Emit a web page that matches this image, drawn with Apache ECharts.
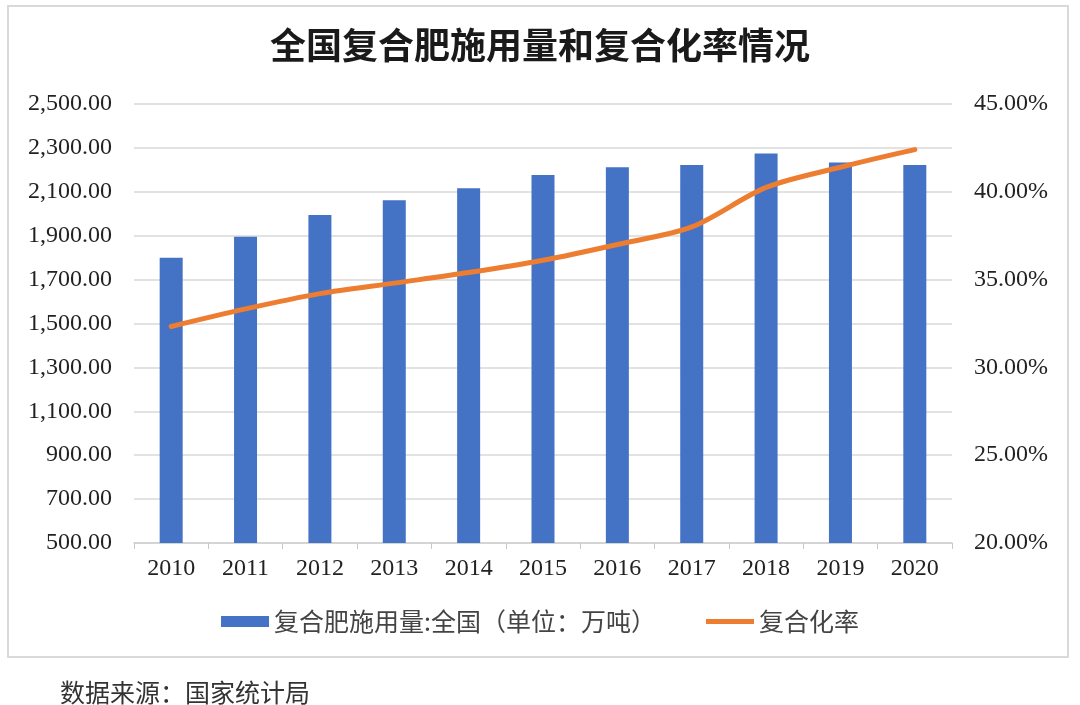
<!DOCTYPE html>
<html lang="zh">
<head>
	<meta charset="UTF-8">
	<title>全国复合肥施用量和复合化率情况</title>
	<style>
		* {
			margin: 0;
			padding: 0;
		}

		html, body {
			background: #fff;
		}

		#box {
			width: 1080px;
			height: 705px;
		}
	</style>
	<script src="https://cdn.jsdelivr.net/npm/echarts@6/dist/echarts.min.js"></script>
</head>
<body>
<div id="box"></div>
</body>
<script>
	// 数据
	const years = ['2010', '2011', '2012', '2013', '2014', '2015', '2016', '2017', '2018', '2019', '2020'];
	const usage = [1800, 1895, 1994, 2061, 2116, 2176, 2212, 2222, 2274, 2234, 2222]; // 万吨
	const rate = [32.33, 33.33, 34.2, 34.8, 35.4, 36.1, 37.0, 38.0, 40.25, 41.4, 42.4]; // %

	const serif = "'Liberation Serif', 'Noto Sans CJK SC', serif";
	const cjk = "'Noto Sans CJK SC', sans-serif";

	const myEcharts = echarts.init(document.getElementById('box'));

	myEcharts.setOption({
		backgroundColor: '#fff',
		animation: false,
		title: {
			text: '全国复合肥施用量和复合化率情况',
			left: 'center',
			top: 27,
			textStyle: {
				fontFamily: serif,
				fontSize: 36,
				fontWeight: 'bold',
				color: '#1a1a1a',
			},
		},
		// 外框和数据来源
		graphic: [
			{
				type: 'rect',
				shape: {x: 8, y: 6, width: 1060, height: 651},
				style: {fill: 'none', stroke: '#d9d9d9', lineWidth: 2},
				silent: true,
			},
			{
				type: 'text',
				left: 60,
				top: 680,
				style: {
					text: '数据来源：国家统计局',
					fontFamily: cjk,
					fontSize: 25,
					fill: '#333',
				},
			},
		],
		legend: {
			bottom: 66,
			left: 'center',
			itemWidth: 48,
			itemHeight: 11,
			itemGap: 50,
			textStyle: {
				fontFamily: cjk,
				fontSize: 25,
				color: '#444',
			},
			data: [
				{name: '复合肥施用量:全国（单位：万吨）', icon: 'rect'},
				{name: '复合化率', icon: 'path://M0,0 L48,0 L48,5 L0,5 Z'},
			],
		},
		grid: {
			left: 134,
			right: 128,
			top: 104,
			bottom: 162,
		},
		xAxis: {
			type: 'category',
			data: years,
			axisLine: {lineStyle: {color: '#d0d0d0', width: 1.5}},
			axisTick: {show: true, length: 6, lineStyle: {color: '#c8c8c8'}},
			axisLabel: {
				fontFamily: serif,
				fontSize: 24,
				color: '#222',
				margin: 14,
			},
		},
		yAxis: [
			{
				type: 'value',
				min: 500,
				max: 2500,
				interval: 200,
				axisLine: {show: false},
				axisTick: {show: false},
				splitLine: {lineStyle: {color: '#d9d9d9', width: 1.5}},
				axisLabel: {
					fontFamily: serif,
					fontSize: 24,
					color: '#222',
					margin: 22,
					formatter: function (v) {
						return v.toLocaleString('en-US', {minimumFractionDigits: 2, maximumFractionDigits: 2});
					},
				},
			},
			{
				type: 'value',
				min: 20,
				max: 45,
				interval: 5,
				axisLine: {show: false},
				axisTick: {show: false},
				splitLine: {show: false},
				axisLabel: {
					fontFamily: serif,
					fontSize: 24,
					color: '#222',
					margin: 22,
					formatter: function (v) {
						return v.toFixed(2) + '%';
					},
				},
			},
		],
		series: [
			{
				name: '复合肥施用量:全国（单位：万吨）',
				type: 'bar',
				data: usage,
				barWidth: 23,
				itemStyle: {color: '#4472c4'},
			},
			{
				name: '复合化率',
				type: 'line',
				yAxisIndex: 1,
				data: rate,
				smooth: 0.3,
				symbol: 'none',
				lineStyle: {color: '#ed7d31', width: 5, cap: 'round'},
				itemStyle: {color: '#ed7d31'},
			},
		],
	});
</script>
</html>
